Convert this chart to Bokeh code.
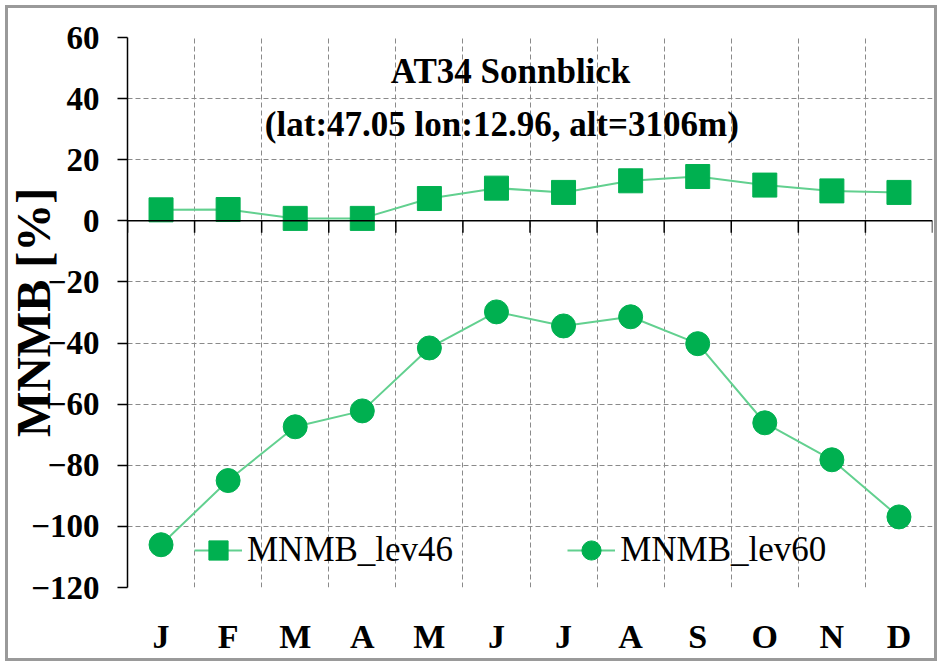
import math
from bokeh.plotting import figure
from bokeh.models import (FixedTicker, Span, Label, Legend, LegendItem, Range1d)
from bokeh.embed import file_html
from bokeh.resources import INLINE

months = ["J", "F", "M", "A", "M", "J", "J", "A", "S", "O", "N", "D"]
lev46 = [3.6, 3.7, 0.8, 0.8, 7.3, 10.7, 9.3, 13.1, 14.5, 11.7, 9.8, 9.3]
lev60 = [-106.0, -85.0, -67.4, -62.2, -41.6, -29.8, -34.4, -31.4, -40.2, -66.1, -78.2, -96.9]
y_ticks = [-120, -100, -80, -60, -40, -20, 0, 20, 40, 60]
title1 = "AT34 Sonnblick"
title2 = "(lat:47.05 lon:12.96, alt=3106m)"
names = ["MNMB_lev46", "MNMB_lev60"]

xs = [i + 0.5 for i in range(len(months))]
bounds = list(range(len(months) + 1))

MARK = "#00b050"
LINE = "#62d08f"
FONT = "Liberation Serif"

p = figure(width=942, height=666, output_backend="svg", toolbar_location=None,
           x_range=Range1d(0, len(months)), y_range=Range1d(-120, 60),
           min_border_left=127, min_border_right=10, min_border_top=37,
           min_border_bottom=79)
p.outline_line_color = None
p.background_fill_color = "white"
p.border_fill_color = None
p.border_fill_alpha = 0
p.styles = {"background-color": "white",
            "box-shadow": "inset 0 0 0 5px white, inset 0 0 0 8px #9a9a9a"}

p.xgrid.ticker = FixedTicker(ticks=bounds)
p.ygrid.ticker = FixedTicker(ticks=y_ticks)
for g in (p.xgrid, p.ygrid):
    g.grid_line_color = "#8a8a8a"
    g.grid_line_dash = "5 3"
    g.grid_line_width = 1

p.xaxis.ticker = FixedTicker(ticks=xs)
p.xaxis.major_label_overrides = {x: m for x, m in zip(xs, months)}
p.xaxis.axis_line_color = None
p.xaxis.major_tick_line_color = None
p.xaxis.minor_tick_line_color = None
p.xaxis.major_tick_out = 0
p.xaxis.major_label_text_font = FONT
p.xaxis.major_label_text_font_style = "bold"
p.xaxis.major_label_text_font_size = "34px"
p.xaxis.major_label_text_color = "black"
p.xaxis.major_label_standoff = 30

p.yaxis.ticker = FixedTicker(ticks=y_ticks)
p.yaxis.axis_line_color = "black"
p.yaxis.axis_line_width = 1.5
p.yaxis.major_tick_line_color = "black"
p.yaxis.major_tick_line_width = 1.5
p.yaxis.major_tick_out = 10
p.yaxis.major_tick_in = 0
p.yaxis.minor_tick_line_color = None
p.yaxis.major_label_text_font = FONT
p.yaxis.major_label_text_font_style = "bold"
p.yaxis.major_label_text_font_size = "33px"
p.yaxis.major_label_text_color = "black"
p.yaxis.major_label_standoff = 18
p.yaxis.axis_label = "MNMB [%]"
p.yaxis.axis_label_text_font = FONT
p.yaxis.axis_label_text_font_style = "bold"
p.yaxis.axis_label_text_font_size = "48px"
p.yaxis.axis_label_text_color = "black"
p.yaxis.axis_label_standoff = -32

p.add_layout(Span(location=0, dimension="width", line_color="black", line_width=1.5))
p.ray(x=bounds, y=[0] * len(bounds), length=12, length_units="screen",
      angle=-math.pi / 2, line_color="black", line_width=1.5)

l1 = p.line(xs, lev46, line_color=LINE, line_width=2)
s1 = p.scatter(xs, lev46, marker="square", size=24, fill_color=MARK, line_color=MARK)
l2 = p.line(xs, lev60, line_color=LINE, line_width=2)
s2 = p.scatter(xs, lev60, marker="circle", size=24, fill_color=MARK, line_color=MARK)

legend = Legend(items=[LegendItem(label=names[0], renderers=[l1, s1]),
                       LegendItem(label=names[1], renderers=[l2, s2])],
                orientation="horizontal", location=(67, 9),
                glyph_width=48, glyph_height=56, label_standoff=5, spacing=114,
                padding=0, margin=0, border_line_color=None,
                background_fill_alpha=0,
                label_text_font=FONT, label_text_font_size="35px",
                label_text_color="black")
p.add_layout(legend)

p.add_layout(Label(x=5.71, y=48.8, text=title1, text_align="center",
                   text_baseline="middle", text_font=FONT, text_font_style="bold",
                   text_font_size="35px", text_color="black"))
p.add_layout(Label(x=5.58, y=31.4, text=title2, text_align="center",
                   text_baseline="middle", text_font=FONT, text_font_style="bold",
                   text_font_size="35px", text_color="black"))

open("out.html", "w").write(file_html(p, INLINE))
